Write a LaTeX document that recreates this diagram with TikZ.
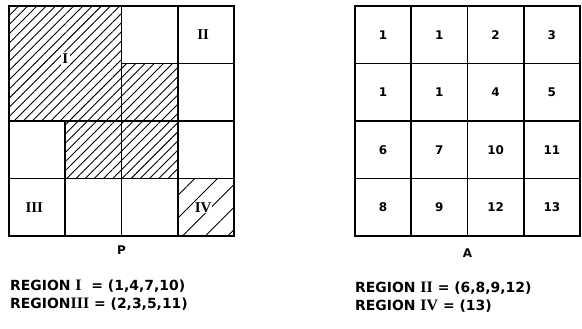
\documentclass[tikz,border=0pt]{standalone}
\usepackage{fontspec}
\setmainfont{DejaVu Sans}
\newfontfamily\romfont{Liberation Serif}
\usetikzlibrary{patterns.meta, positioning}

\def\cw{56.25}
\def\ch{57.5}
\newcommand{\rom}[1]{{\romfont\bfseries\fontsize{16}{16}\selectfont #1}}

\tikzset{
    gridline/.style={line width=1.6pt},
    border/.style={line width=2pt},
    hatch/.style={pattern={Lines[angle=45, distance=6.5bp, line width=0.9pt]}},
    hatchwide/.style={pattern={Lines[angle=45, distance=16bp, line width=0.9pt]}},
    roman/.style={font=\romfont\bfseries\fontsize{15}{15}\selectfont, inner sep=1.5pt},
    cellnum/.style={font=\bfseries\fontsize{12}{12}\selectfont},
    caption/.style={font=\bfseries\fontsize{12}{12}\selectfont},
    legend/.style={anchor=west, inner sep=0pt, font=\bfseries\fontsize{14}{14}\selectfont}
}

\begin{document}
\begin{tikzpicture}[x=1bp, y=-1bp]
    \useasboundingbox (0,0) rectangle (582,328);

    % Hatching of P
    \foreach \c/\r in {1/1,2/1,1/2,2/2,3/2,2/3,3/3}
        \fill[hatch] ({9+(\c-1)*\cw},{6+(\r-1)*\ch}) rectangle ++(\cw,\ch);
    \fill[hatchwide] ({9+3*\cw},{6+3*\ch}) rectangle ++(\cw,\ch);

    % Grid P
    \draw[border] (9,6) rectangle ({9+4*\cw},{6+4*\ch});
    \draw[gridline] ({9+\cw},{6+2*\ch}) -- ({9+\cw},{6+4*\ch});
    \foreach \c in {2,3}
        \draw[gridline] ({9+\c*\cw},6) -- ({9+\c*\cw},{6+4*\ch});
    \draw[gridline] ({9+2*\cw},{6+\ch}) -- ({9+4*\cw},{6+\ch});
    \foreach \r in {2,3}
        \draw[gridline] (9,{6+\r*\ch}) -- ({9+4*\cw},{6+\r*\ch});

    % Region labels in P
    \node (regI) [roman, fill=white] at ({9+\cw},{1+\ch}) {I};
    \node (regII) [roman] at ({9+3.45*\cw},{6+0.5*\ch}) {II};
    \node (regIII) [roman] at ({9+0.45*\cw},{6+3.5*\ch}) {III};
    \node (regIV) [roman, fill=white, inner sep=0.5pt] at ({9+3.45*\cw},{6+3.5*\ch}) {IV};
    \node (capP) [caption] at ({9+2*\cw},250) {P};

    % Grid A
    \draw[border] (355,6) rectangle ({355+4*\cw},{6+4*\ch});
    \foreach \c in {1,2,3}
        \draw[gridline] ({355+\c*\cw},6) -- ({355+\c*\cw},{6+4*\ch});
    \foreach \r in {1,2,3}
        \draw[gridline] (355,{6+\r*\ch}) -- ({355+4*\cw},{6+\r*\ch});

    % Cell numbers of A
    \foreach \v [count=\i from 0] in {1,1,2,3,1,1,4,5,6,7,10,11,8,9,12,13} {
        \pgfmathtruncatemacro{\r}{div(\i,4)}
        \pgfmathtruncatemacro{\c}{mod(\i,4)}
        \node (a-\r-\c) [cellnum] at ({355+(\c+0.5)*\cw},{6+(\r+0.5)*\ch}) {\v};
    }
    \node (capA) [caption] at ({355+2*\cw},253) {A};

    % Legend
    \node (lgI) [legend] at (10,286) {REGION \rom{I}\ \ = (1,4,7,10)};
    \node (lgIII) [legend] at (10,304) {REGION\rom{III} = (2,3,5,11)};
    \node (lgII) [legend] at (355,288) {REGION \rom{II} = (6,8,9,12)};
    \node (lgIV) [legend] at (355,306) {REGION \rom{IV} = (13)};
\end{tikzpicture}
\end{document}
